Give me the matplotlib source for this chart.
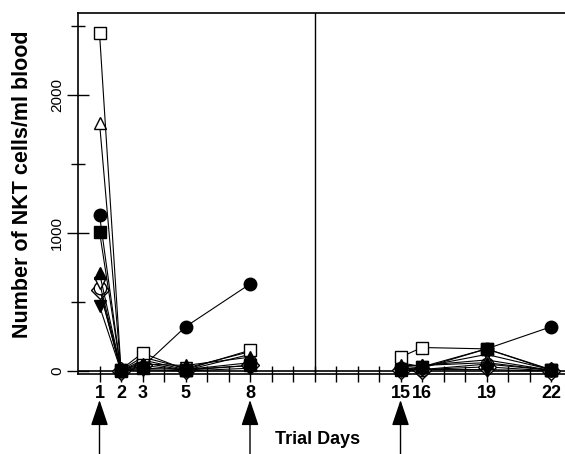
import matplotlib
matplotlib.use("Agg")
import matplotlib.pyplot as plt
from matplotlib.ticker import FixedLocator, NullFormatter

# ---- data ----
days_a = [1, 2, 3, 5, 8]
days_b = [15, 16, 19, 22]
tick_days = list(range(1, 23))
label_days = [1, 2, 3, 5, 8, 15, 16, 19, 22]
arrow_days = [1, 8, 15]

series_names = ["open_square", "open_triangle", "filled_circle", "filled_square",
                "filled_triangle", "open_down", "open_circle", "open_diamond", "filled_down"]
vals_a = {
    "open_square":    [2450, 10, 130, 10, 150],
    "open_triangle":  [1800, 5, 60, 5, 120],
    "filled_circle":  [1130, 0, 30, 320, 630],
    "filled_square":  [1010, 0, 20, 10, 40],
    "filled_triangle": [710, 5, 50, 40, 100],
    "open_down":      [640, 5, 100, 20, 140],
    "open_circle":    [600, 0, 80, 10, 60],
    "open_diamond":   [590, 0, 40, 5, 40],
    "filled_down":    [470, 0, 10, 0, 20],
}
vals_b = {
    "open_square":    [100, 170, 160, 10],
    "open_triangle":  [30, 40, 80, 5],
    "filled_circle":  [20, 20, 160, 320],
    "filled_square":  [10, 30, 160, 5],
    "filled_triangle": [40, 40, 60, 5],
    "open_down":      [60, 30, 120, 10],
    "open_circle":    [20, 10, 50, 5],
    "open_diamond":   [10, 10, 30, 0],
    "filled_down":    [0, 10, 10, 0],
}
styles = {
    "open_square": ("s", "white"),
    "open_triangle": ("^", "white"),
    "filled_circle": ("o", "black"),
    "filled_square": ("s", "black"),
    "filled_triangle": ("^", "black"),
    "open_down": ("v", "white"),
    "open_circle": ("o", "white"),
    "open_diamond": ("D", "white"),
    "filled_down": ("v", "black"),
}
draw_order = ["open_diamond", "open_circle", "open_down", "open_triangle", "open_square",
              "filled_down", "filled_square", "filled_triangle", "filled_circle"]

W, H = 565, 454
fig = plt.figure(figsize=(W / 100, H / 100), dpi=100)
ax = fig.add_axes([78 / W, (H - 374) / H, (W - 78) / W, (374 - 13) / H])

for z, name in enumerate(draw_order):
    m, fc = styles[name]
    for xs, ys in ((days_a, vals_a[name]), (days_b, vals_b[name])):
        ax.plot(xs, ys, color="black", lw=0.8, marker=m, markersize=9,
                markerfacecolor=fc, markeredgecolor="black", markeredgewidth=1.0,
                clip_on=False, zorder=3 + z * 0.1)

ax.set_xlim(0, 22.65)
ax.set_ylim(-22, 2594)
ax.axhline(0, color="black", lw=1.2, zorder=2)
ax.axvline(11, color="black", lw=1.0, zorder=1)

ax.spines["right"].set_visible(False)
for s in ["left", "bottom", "top"]:
    ax.spines[s].set_linewidth(1.2)

ax.xaxis.set_major_locator(FixedLocator(tick_days))
ax.set_xticklabels([str(d) if d in label_days else "" for d in tick_days],
                   fontsize=13, fontweight="bold", family="Liberation Sans")
ax.tick_params(axis="x", direction="inout", length=12, width=1.0, pad=2)

ax.yaxis.set_major_locator(FixedLocator([0, 1000, 2000]))
ax.yaxis.set_minor_locator(FixedLocator([500, 1500, 2500]))
ax.yaxis.set_minor_formatter(NullFormatter())
ax.set_yticklabels(["0", "1000", "2000"], rotation=90, va="center",
                   fontsize=11, family="Liberation Sans")
ax.tick_params(axis="y", which="major", direction="inout", length=16, width=1.0, pad=2)
ax.tick_params(axis="y", which="minor", direction="inout", length=10, width=1.0)

fig.text(23 / W, 1 - 184 / H, "Number of NKT cells/ml blood", fontsize=15.5,
         fontweight="bold", family="Liberation Sans", rotation=90,
         ha="center", va="center")
fig.text(318 / W, 1 - 440 / H, "Trial Days", fontsize=13, fontweight="bold",
         family="Liberation Sans", ha="center", va="center")

for d in arrow_days:
    ax.annotate("", xy=(d, 1 - 400 / H), xycoords=("data", "figure fraction"),
                xytext=(d, 0), textcoords=("data", "figure fraction"),
                arrowprops=dict(arrowstyle="-|>,head_length=0.8,head_width=0.27",
                                mutation_scale=20, color="black", lw=1.0,
                                shrinkA=0, shrinkB=0),
                annotation_clip=False)

fig.savefig("out.png", dpi=100)
